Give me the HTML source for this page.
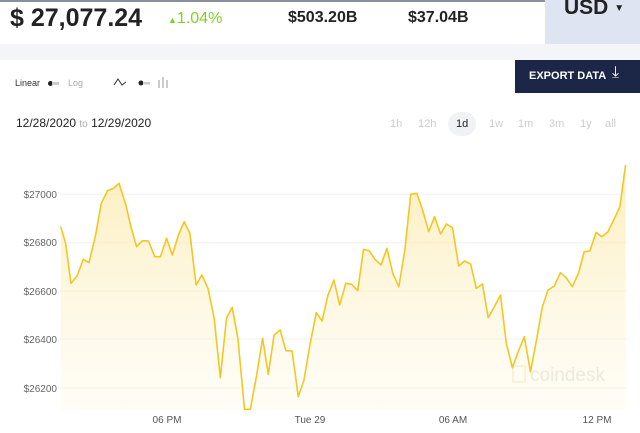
<!DOCTYPE html><html><head><style>
body{margin:0;width:640px;height:433px;overflow:hidden;background:#fff;font-family:"Liberation Sans",sans-serif;position:relative}
.a{position:absolute;white-space:nowrap}
</style></head><body>
<div class="a" style="left:0;top:0;width:640px;height:2px;background:#8a8f9c"></div>
<div class="a" style="left:10px;top:4px;font-size:25px;font-weight:bold;color:#222">$ 27,077.24</div>
<div class="a" style="left:168px;top:10px;font-size:16px;color:#7ed321"><span style="font-size:9px">▲</span>1.04%</div>
<div class="a" style="left:288px;top:9px;font-size:16px;font-weight:bold;color:#222">$503.20B</div>
<div class="a" style="left:408px;top:9px;font-size:16px;font-weight:bold;color:#222">$37.04B</div>
<div class="a" style="left:545px;top:0;width:95px;height:44px;background:#dfe4f3"></div>
<div class="a" style="left:564px;top:-4px;font-size:21px;font-weight:bold;color:#222">USD <span style="font-size:10px;vertical-align:middle">▼</span></div>
<div class="a" style="left:0;top:44px;width:640px;height:16px;background:#f4f5f8"></div>
<div class="a" style="left:515px;top:60px;width:125px;height:33px;background:#1c2647"></div>
<div class="a" style="left:529px;top:70px;font-size:11px;font-weight:bold;color:#fff">EXPORT DATA</div>
<div class="a" style="left:612px;top:64px;font-size:16px;color:#fff">⤓</div>
<div class="a" style="left:15px;top:78px;font-size:9px;color:#333">Linear</div>
<div class="a" style="left:48px;top:81px;width:5px;height:5px;border-radius:50%;background:#222"></div>
<div class="a" style="left:52px;top:82px;width:7px;height:3px;background:#ccc"></div>
<div class="a" style="left:68px;top:78px;font-size:9px;color:#aaa">Log</div>
<svg class="a" style="left:113px;top:76px" width="60" height="14"><polyline points="1,9 5,3 9,9 13,6" fill="none" stroke="#333" stroke-width="1"/><circle cx="28" cy="7" r="2.5" fill="#222"/><rect x="30" y="6" width="7" height="2.5" fill="#ccc"/><path d="M46 4v8M50 1v11M54 4v8" stroke="#aaa" stroke-width="1.2"/></svg>
<div class="a" style="left:16px;top:116px;font-size:12px;color:#222">12/28/2020 <span style="color:#aaa;font-size:10px">to</span> 12/29/2020</div>
<div class="a" style="left:448px;top:112px;width:28px;height:24px;border-radius:12px;background:#f1f2f5"></div>
<div class="a" style="top:118px;font-size:11px;color:#ccc;left:390px">1h</div>
<div class="a" style="top:118px;font-size:11px;color:#ccc;left:418px">12h</div>
<div class="a" style="top:118px;font-size:11px;color:#222;left:456px">1d</div>
<div class="a" style="top:118px;font-size:11px;color:#ccc;left:489px">1w</div>
<div class="a" style="top:118px;font-size:11px;color:#ccc;left:518px">1m</div>
<div class="a" style="top:118px;font-size:11px;color:#ccc;left:549px">3m</div>
<div class="a" style="top:118px;font-size:11px;color:#ccc;left:580px">1y</div>
<div class="a" style="top:118px;font-size:11px;color:#ccc;left:605px">all</div>
<svg id="c" class="a" style="left:0;top:0" width="640" height="433">
<defs><linearGradient id="g" x1="0" y1="0" x2="0" y2="1"><stop offset="0" stop-color="#fde9a6" stop-opacity=".75"/><stop offset="1" stop-color="#fef6dc" stop-opacity=".25"/></linearGradient></defs>
<g stroke="#f0f0f0" stroke-width="1">
<line x1="60" x2="626" y1="194.3" y2="194.3"/><line x1="60" x2="626" y1="242.7" y2="242.7"/><line x1="60" x2="626" y1="291" y2="291"/><line x1="60" x2="626" y1="339" y2="339"/><line x1="60" x2="626" y1="388" y2="388"/></g>
<g font-size="10" fill="#666" text-anchor="end" font-family="Liberation Sans">
<text x="57" y="198">$27000</text><text x="57" y="246">$26800</text><text x="57" y="295">$26600</text><text x="57" y="343">$26400</text><text x="57" y="392">$26200</text></g>
<g font-size="10" fill="#555" text-anchor="middle" font-family="Liberation Sans">
<text x="167" y="423">06 PM</text><text x="310" y="423">Tue 29</text><text x="453" y="423">06 AM</text><text x="597" y="423">12 PM</text></g>
<text x="530" y="381" font-size="19" fill="#e4e4e4" font-family="Liberation Sans">coindesk</text>
<rect x="513" y="366" width="12" height="16" fill="none" stroke="#f8f0d8" stroke-width="2"/>
<path id="ar" fill="url(#g)"/><polyline id="ln" fill="none" stroke="#f3c623" stroke-width="1.6" stroke-linejoin="round"/>
</svg>
<script>
var p=[148,230,160,280,173,400,188,378,203,328,217,338,233,255,247,160,262,122,277,115,290,100,307,165,320,235,333,290,347,272,362,273,377,320,391,320,406,265,420,315,435,255,449,215,463,250,478,405,492,375,507,415,522,505,537,683,552,505,566,472,580,565,596,778,610,778,625,680,640,565,654,673,668,555,683,540,697,602,712,603,727,740,741,690,756,580,771,488,785,513,799,437,814,390,828,465,843,400,857,403,872,422,886,298,900,302,914,328,929,345,943,295,958,372,972,410,987,300,1001,133,1016,130,1030,180,1045,245,1059,200,1074,252,1088,222,1103,233,1118,348,1132,333,1147,342,1161,415,1176,402,1190,503,1205,470,1220,435,1234,580,1249,653,1263,605,1278,560,1293,665,1307,575,1322,470,1336,420,1351,408,1366,368,1380,383,1395,410,1410,370,1424,305,1438,303,1453,247,1467,260,1482,245,1496,210,1511,170,1525,45];
var s=[];for(var i=0;i<p.length;i+=2)s.push((p[i]/2.4375).toFixed(1)+','+(150+p[i+1]/3).toFixed(1));
document.getElementById('ln').setAttribute('points',s.join(' '));
document.getElementById('ar').setAttribute('d','M'+s.join(' L')+' L625.6,410 L60.7,410 Z');
</script>
</body></html>
